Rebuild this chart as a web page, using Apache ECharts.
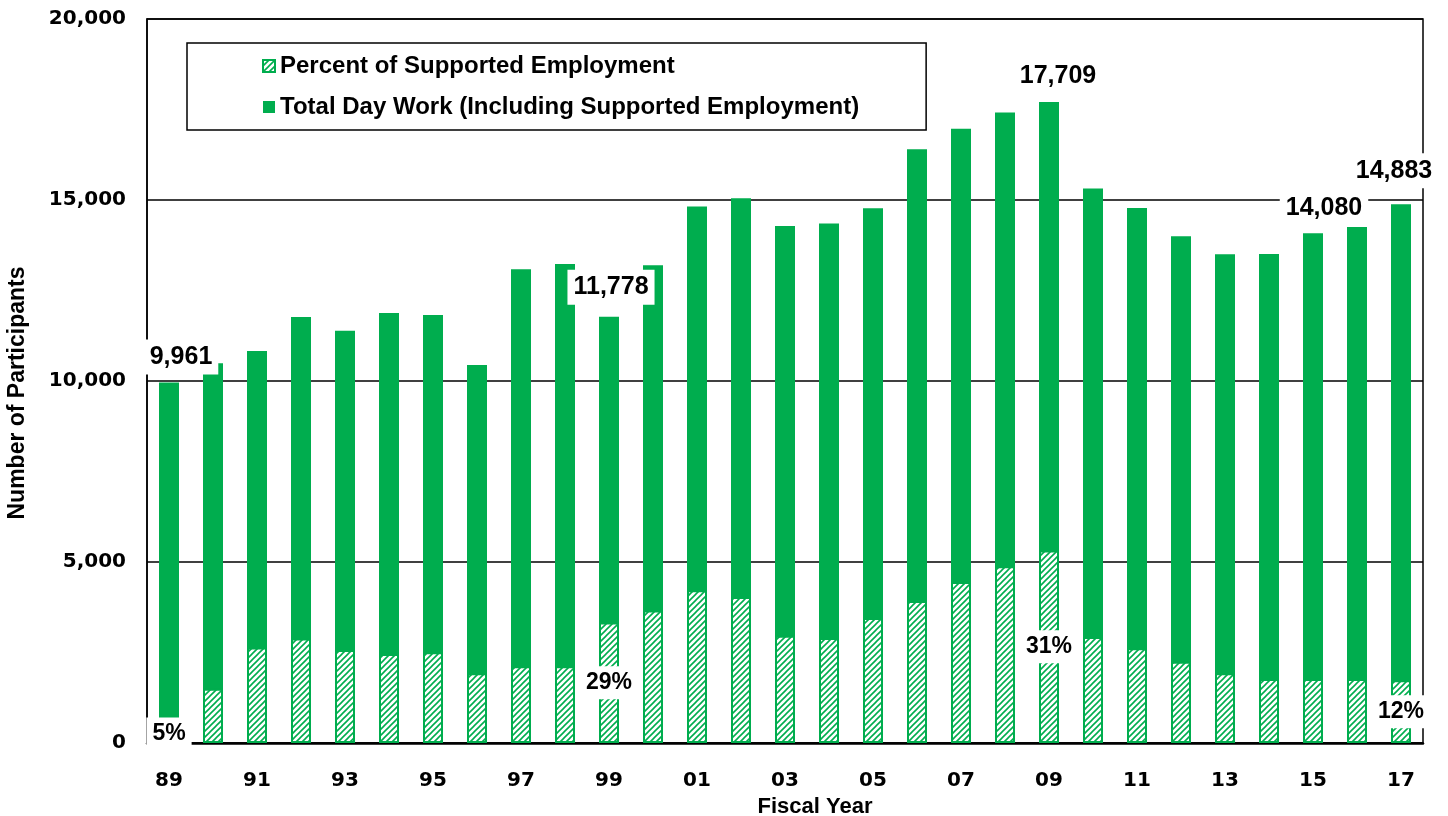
<!DOCTYPE html>
<html>
<head>
<meta charset="utf-8">
<script src="https://cdn.jsdelivr.net/npm/echarts@6/dist/echarts.min.js"></script>
<style>
html, body { margin: 0; padding: 0; background: #fff; }
#chart { width: 1448px; height: 816px; }
</style>
</head>
<body>
<div id="chart"></div>
<script>
// fiscal years 89 .. 17
var years = ['89','90','91','92','93','94','95','96','97','98','99','00','01','02','03','04','05','06','07','08','09','10','11','12','13','14','15','16','17'];
// total day work (incl. supported employment)
var totalDayWork = [9961, 10490, 10830, 11770, 11385, 11880, 11820, 10440, 13090, 13230, 11778, 13200, 14820, 15050, 14285, 14350, 14775, 16400, 16965, 17415, 17709, 15315, 14780, 14000, 13500, 13510, 14080, 14255, 14883];
// supported employment participants
var supportedEmp = [498, 1500, 2640, 2890, 2570, 2460, 2510, 1930, 2120, 2120, 3330, 3660, 4220, 4030, 2960, 2900, 3450, 3920, 4445, 4880, 5320, 2925, 2620, 2245, 1930, 1765, 1765, 1765, 1730];
// labelled years
var labelIdx = [0, 10, 20, 26, 28];
var pctText = ['5%', '29%', '31%', '', '12%'];
var yTicks = [0, 5000, 10000, 15000, 20000];

var GREEN = '#00ad4e';

// hatch fill: white with green "/" lines
function hatch() {
	var c = document.createElement('canvas');
	c.width = 6; c.height = 6;
	var g = c.getContext('2d');
	g.fillStyle = '#fff';
	g.fillRect(0, 0, 6, 6);
	g.strokeStyle = GREEN;
	g.lineWidth = 1.6;
	g.beginPath();
	g.moveTo(-1, 7); g.lineTo(7, -1);
	g.moveTo(-4, 4); g.lineTo(4, -4);
	g.moveTo(2, 10); g.lineTo(10, 2);
	g.stroke();
	return c;
}

var labelBox = {
	color: '#000',
	fontFamily: '"Liberation Sans", Arial, sans-serif',
	fontWeight: 'bold',
	fontSize: 23,
	backgroundColor: '#fff',
	padding: [5, 6]
};

// small nudges for the value labels, like the original
var topOffsets = {0: [12, 0], 10: [2, -4], 20: [9, 0], 26: [11, 0], 28: [-7, -8]};

var totalData = totalDayWork.map(function(v, i) {
	var k = labelIdx.indexOf(i);
	if (k < 0) return v;
	return {
		value: v,
		label: Object.assign({}, labelBox, {
			show: true,
			position: 'top',
			distance: 8,
			fontSize: 25,
			offset: topOffsets[i],
			formatter: function(p) { return p.value.toLocaleString('en-US'); }
		})
	};
});

var seData = supportedEmp.map(function(v, i) {
	var k = labelIdx.indexOf(i);
	if (k < 0 || !pctText[k]) return v;
	return {
		value: v,
		label: Object.assign({}, labelBox, {
			show: true,
			position: 'inside',
			formatter: pctText[k]
		})
	};
});

var chart = echarts.init(document.getElementById('chart'));
var option = {
	animation: false,
	grid: {
		left: 147,
		right: 25,
		top: 19,
		bottom: 73,
		outerBoundsMode: 'none',
		show: true,
		borderColor: '#000',
		borderWidth: 1.5,
		backgroundColor: 'transparent'
	},
	legend: {
		orient: 'vertical',
		left: 187,
		top: 43,
		padding: [11, 67, 11, 75],
		itemGap: 17,
		itemWidth: 12,
		itemHeight: 12,
		icon: 'rect',
		borderColor: '#000',
		borderWidth: 1.5,
		data: ['Percent of Supported Employment', 'Total Day Work (Including Supported Employment)'],
		textStyle: {
			color: '#000',
			fontFamily: '"Liberation Sans", Arial, sans-serif',
			fontWeight: 'bold',
			fontSize: 24,
			lineHeight: 24
		}
	},
	xAxis: {
		type: 'category',
		data: years,
		name: 'Fiscal Year',
		nameLocation: 'middle',
		nameGap: 50,
		nameTextStyle: {
			color: '#000',
			fontFamily: '"Liberation Sans", Arial, sans-serif',
			fontWeight: 'bold',
			fontSize: 22,
			padding: [0, 0, 0, 60]
		},
		axisLine: { lineStyle: { color: '#000', width: 2.5 } },
		axisTick: { show: false },
		axisLabel: {
			interval: 1,
			margin: 28,
			color: '#000',
			fontFamily: '"DejaVu Sans", sans-serif',
			fontWeight: 'bold',
			fontSize: 20
		}
	},
	yAxis: {
		type: 'value',
		min: yTicks[0],
		max: yTicks[yTicks.length - 1],
		interval: 5000,
		name: 'Number of Participants',
		nameLocation: 'middle',
		nameGap: 118,
		nameRotate: 90,
		nameTextStyle: {
			color: '#000',
			fontFamily: '"Liberation Sans", Arial, sans-serif',
			fontWeight: 'bold',
			fontSize: 23,
			padding: [0, 24, 0, 0]
		},
		axisLine: { show: true, lineStyle: { color: '#000', width: 1.5 } },
		axisTick: { show: false },
		splitLine: { lineStyle: { color: '#000', width: 1.5 } },
		axisLabel: {
			margin: 21,
			color: '#000',
			fontFamily: '"DejaVu Sans", sans-serif',
			fontWeight: 'bold',
			fontSize: 20,
			formatter: function(v) { return v.toLocaleString('en-US'); }
		}
	},
	series: [{
		name: 'Total Day Work (Including Supported Employment)',
		type: 'bar',
		barWidth: 20,
		barGap: '-100%',
		itemStyle: { color: GREEN },
		data: totalData
	}, {
		name: 'Percent of Supported Employment',
		type: 'bar',
		barWidth: 20,
		barGap: '-100%',
		itemStyle: {
			color: { image: hatch(), repeat: 'repeat' },
			borderColor: GREEN,
			borderWidth: 2
		},
		data: seData
	}]
};
chart.setOption(option);
</script>
</body>
</html>
